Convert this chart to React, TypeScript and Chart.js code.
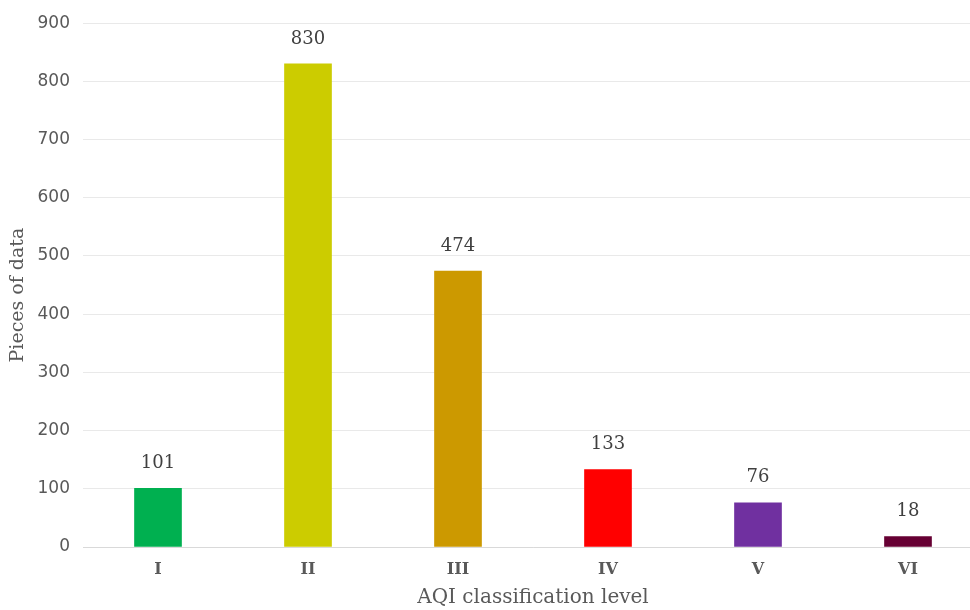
import React, { useEffect, useRef } from "react";
import { Chart, registerables } from "chart.js";

Chart.register(...registerables);

const categories = ["I", "II", "III", "IV", "V", "VI"];
const counts = [101, 830, 474, 133, 76, 18];
const barColors = ["#00B050", "#CCCC00", "#CC9900", "#FF0000", "#7030A0", "#660033"];
const yTicks = [0, 100, 200, 300, 400, 500, 600, 700, 800, 900];
const yTitle = "Pieces of data";
const xTitle = "AQI classification level";

const valueLabels = {
  id: "valueLabels",
  afterDatasetsDraw(chart: any) {
    const ctx = chart.ctx;
    const meta = chart.getDatasetMeta(0);
    ctx.save();
    ctx.font = "18px 'DejaVu Serif'";
    ctx.fillStyle = "#404040";
    ctx.textAlign = "center";
    ctx.textBaseline = "middle";
    meta.data.forEach((bar: any, i: number) => {
      ctx.fillText(String(counts[i]), bar.x, bar.y - 25);
    });
    ctx.restore();
  },
};

const yTitlePlugin = {
  id: "yTitlePlugin",
  afterDraw(chart: any) {
    const ctx = chart.ctx;
    const area = chart.chartArea;
    ctx.save();
    ctx.font = "19px 'DejaVu Serif'";
    ctx.fillStyle = "#595959";
    ctx.textAlign = "center";
    ctx.textBaseline = "middle";
    ctx.translate(18, (area.top + area.bottom) / 2 + 10);
    ctx.rotate(-Math.PI / 2);
    ctx.fillText(yTitle, 0, 0);
    ctx.restore();
  },
};

export default function App() {
  const ref = useRef<HTMLCanvasElement | null>(null);
  useEffect(() => {
    if (!ref.current) return;
    const chart = new Chart(ref.current, {
      type: "bar",
      data: {
        labels: categories,
        datasets: [
          {
            data: counts,
            backgroundColor: barColors,
            barThickness: 47,
          },
        ],
      },
      options: {
        animation: false,
        responsive: false,
        maintainAspectRatio: false,
        layout: { padding: { top: 22, right: 7, left: 0, bottom: 0 } },
        plugins: { legend: { display: false }, tooltip: { enabled: false } },
        scales: {
          x: {
            grid: { display: false, drawTicks: false },
            border: { display: true, color: "#d9d9d9", width: 1 },
            ticks: {
              padding: 13,
              color: "#595959",
              font: { family: "'DejaVu Serif'", size: 16, weight: "bold" },
            },
            title: {
              display: true,
              text: xTitle,
              color: "#595959",
              font: { family: "'DejaVu Serif'", size: 20 },
              padding: { top: 0, bottom: 0 },
            },
            afterFit: (scale: any) => {
              scale.height = 63;
            },
          },
          y: {
            min: 0,
            max: 900,
            afterBuildTicks: (scale: any) => {
              scale.ticks = yTicks.map((v) => ({ value: v }));
            },
            grid: { color: "#e9e9e9", drawTicks: false },
            border: { display: false },
            ticks: {
              padding: 13,
              color: "#595959",
              font: { family: "'DejaVu Sans'", size: 17 },
            },
            title: { display: false },
            afterFit: (scale: any) => {
              scale.width = 83;
            },
          },
        },
      },
      plugins: [valueLabels, yTitlePlugin],
    });
    return () => chart.destroy();
  }, []);
  return (
    <div style={{ position: "fixed", left: 0, top: 0, width: 990, height: 610, background: "#fff" }}>
      <canvas ref={ref} width={990} height={610} style={{ display: "block" }} />
    </div>
  );
}
